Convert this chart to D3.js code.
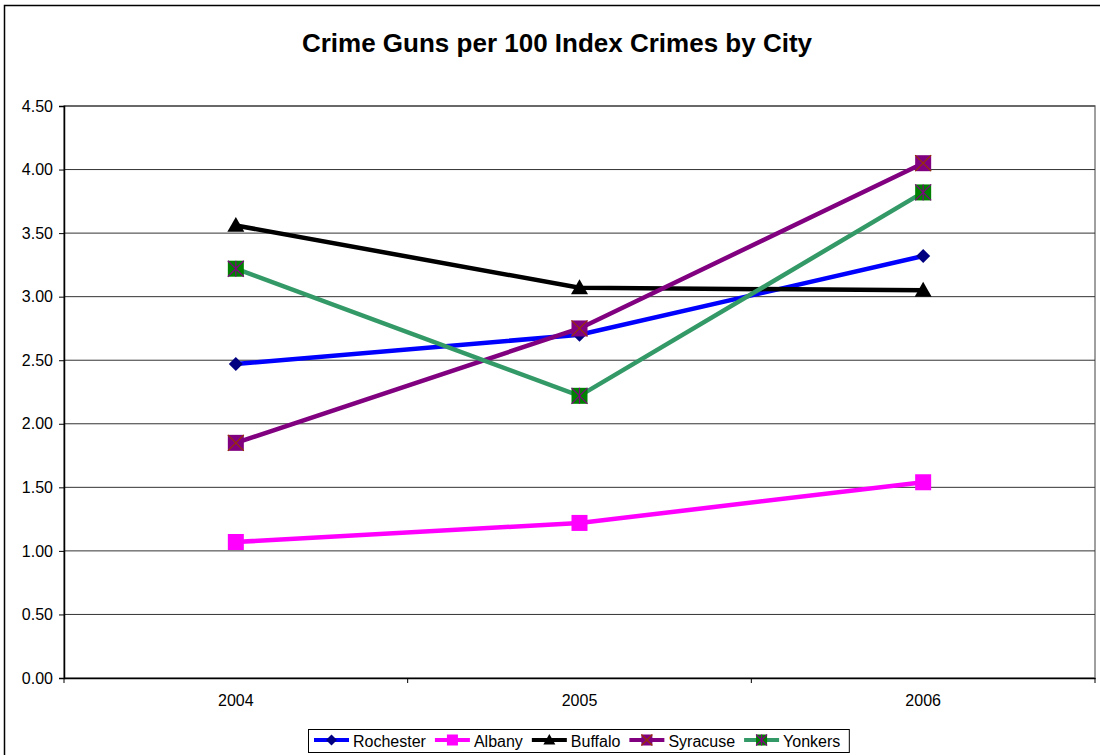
<!DOCTYPE html>
<html><head><meta charset="utf-8">
<script src="https://cdn.jsdelivr.net/npm/d3@7"></script>
<style>body{margin:0;background:#fff}svg{display:block;font-family:"Liberation Sans",Arial,sans-serif}</style>
</head><body>
<svg id="c" width="1100" height="755"></svg>
<script>
const years = ["2004","2005","2006"];
const yTicks = [0,0.5,1,1.5,2,2.5,3,3.5,4,4.5];
const rochester = [2.47,2.70,3.32];
const albany = [1.07,1.22,1.54];
const buffalo = [3.56,3.07,3.05];
const syracuse = [1.85,2.75,4.05];
const yonkers = [3.22,2.22,3.82];
const seriesNames = ["Rochester","Albany","Buffalo","Syracuse","Yonkers"];
const seriesVals = [rochester,albany,buffalo,syracuse,yonkers];
const styles = {
  Rochester:{line:"#0000FF", marker:"diamond", fill:"#000080"},
  Albany:{line:"#FF00FF", marker:"square", fill:"#FF00FF"},
  Buffalo:{line:"#000000", marker:"triangle", fill:"#000000"},
  Syracuse:{line:"#800080", marker:"xsquare", fill:"#800080", mark:"#993300"},
  Yonkers:{line:"#339966", marker:"starsquare", fill:"#008000", mark:"#800080"}
};
const FONT = "Liberation Sans, Arial, sans-serif";
const svg = d3.select("#c");
svg.append("rect").attr("x",4.5).attr("y",5.5).attr("width",1100).attr("height",760).attr("fill","#fff").attr("stroke","#000").attr("stroke-width",1.5);
const L=64,R=1095,T=106,B=678;
const x = d3.scaleBand().domain(years).range([L,R]);
const y = d3.scaleLinear().domain([0,4.5]).range([B,T]);
svg.append("text").attr("x",557).attr("y",52).attr("text-anchor","middle").attr("font-size",26).attr("font-weight","bold").text("Crime Guns per 100 Index Crimes by City");
// plot border
svg.append("rect").attr("x",L).attr("y",T).attr("width",R-L).attr("height",B-T).attr("fill","none").attr("stroke","#808080").attr("stroke-width",1.5);
// gridlines
svg.append("g").selectAll("line").data(yTicks.filter(d=>d>0)).join("line")
  .attr("x1",L).attr("x2",R).attr("y1",d=>y(d)).attr("y2",d=>y(d)).attr("stroke","#333").attr("stroke-width",1);
// y axis
const ya = svg.append("g").attr("transform",`translate(${L},0)`).call(d3.axisLeft(y).tickValues(yTicks).tickFormat(d3.format(".2f")).tickSize(5).tickPadding(6));
ya.attr("font-size",16).attr("font-family",FONT);
ya.select(".domain").attr("stroke","#000").attr("stroke-width",1.5);
ya.selectAll("text").attr("fill","#000");
// x axis
const xa = svg.append("g").attr("transform",`translate(0,${B})`).call(d3.axisBottom(x).tickSize(0).tickPadding(17));
xa.attr("font-size",16).attr("font-family",FONT);
xa.select(".domain").attr("stroke","#000").attr("stroke-width",1.5);
xa.selectAll("text").attr("fill","#000");
const bounds = years.map(d=>x(d)).concat([R]);
xa.selectAll(".btick").data(bounds).join("line").attr("x1",d=>d).attr("x2",d=>d).attr("y1",0).attr("y2",5).attr("stroke","#000");
const cx = d=>x(d)+x.bandwidth()/2;

function drawMarker(g, st, px, py, s){
  const h=s/2;
  if(st.marker==="diamond"){
    g.append("path").attr("d",`M${px},${py-h}L${px+h},${py}L${px},${py+h}L${px-h},${py}Z`).attr("fill",st.fill);
  } else if(st.marker==="square"){
    g.append("rect").attr("x",px-h).attr("y",py-h).attr("width",s).attr("height",s).attr("fill",st.fill);
  } else if(st.marker==="triangle"){
    g.append("path").attr("d",`M${px},${py-h}L${px+h},${py+h*0.75}L${px-h},${py+h*0.75}Z`).attr("fill",st.fill);
  } else if(st.marker==="xsquare"){
    g.append("rect").attr("x",px-h).attr("y",py-h).attr("width",s).attr("height",s).attr("fill",st.fill);
    g.append("path").attr("d",`M${px-h},${py-h}L${px+h},${py+h}M${px+h},${py-h}L${px-h},${py+h}`).attr("stroke",st.mark).attr("stroke-width",1.2);
  } else {
    g.append("rect").attr("x",px-h).attr("y",py-h).attr("width",s).attr("height",s).attr("fill",st.fill);
    g.append("path").attr("d",`M${px-h},${py-h}L${px+h},${py+h}M${px+h},${py-h}L${px-h},${py+h}M${px},${py-h}L${px},${py+h}`).attr("stroke",st.mark).attr("stroke-width",1.2);
  }
}
const line = d3.line().x((d,i)=>cx(years[i])).y(d=>y(d));
seriesNames.forEach((n,k)=>{
  const st=styles[n], vals=seriesVals[k];
  svg.append("path").datum(vals).attr("d",line).attr("fill","none").attr("stroke",st.line).attr("stroke-width",4.5);
});
seriesNames.forEach((n,k)=>{
  const st=styles[n], vals=seriesVals[k];
  const g=svg.append("g");
  const size = st.marker==="diamond"?14:(st.marker==="triangle"?17:16);
  vals.forEach((v,i)=>drawMarker(g,st,cx(years[i]),y(v),size));
});
// legend
const lg = svg.append("g");
const lbox = lg.append("rect").attr("y",729.5).attr("height",23).attr("fill","#fff").attr("stroke","#000").attr("stroke-width",1);
let lx = 314;
seriesNames.forEach(n=>{
  const st=styles[n];
  lg.append("line").attr("x1",lx).attr("x2",lx+35).attr("y1",740).attr("y2",740).attr("stroke",st.line).attr("stroke-width",4);
  drawMarker(lg,st,lx+17.5,740,st.marker==="triangle"?12:11);
  const t=lg.append("text").attr("x",lx+39).attr("y",746.5).attr("font-size",16).text(n);
  lx += 39 + t.node().getComputedTextLength() + 9;
});
lbox.attr("x",308.5).attr("width",lx-308.5);
</script>
</body></html>
